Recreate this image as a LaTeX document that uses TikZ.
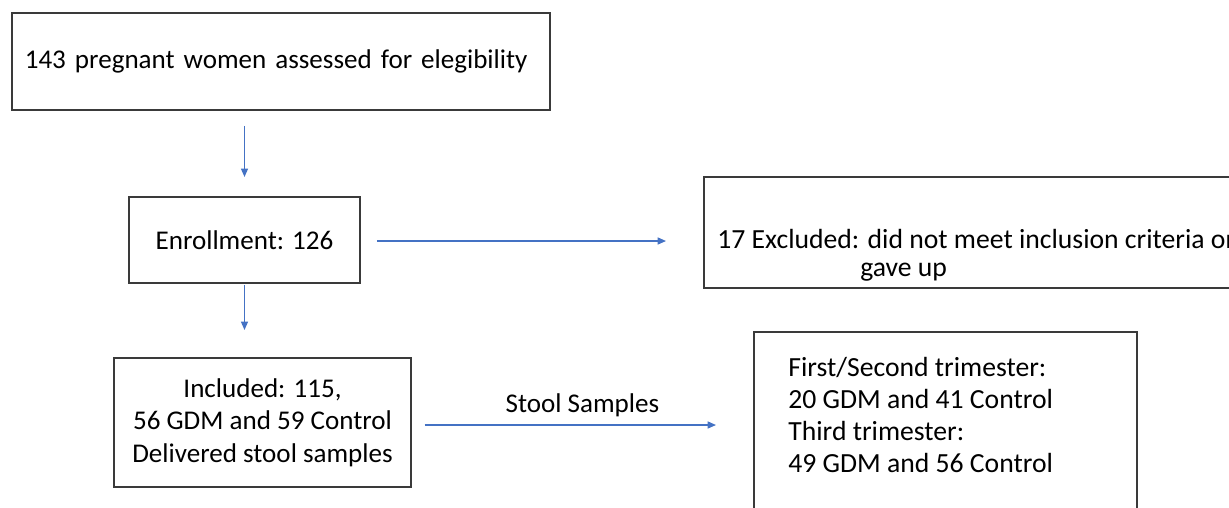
\documentclass[tikz,border=0pt]{standalone}
\usepackage{fontspec}
\setmainfont{Carlito}
\usetikzlibrary{arrows.meta, positioning}

\definecolor{flowblue}{HTML}{4472C4}
\definecolor{boxgray}{HTML}{3A3A3A}

\tikzset{
  box/.style={rectangle, draw=boxgray, line width=1.2pt, outer sep=0pt, inner sep=0pt},
  flow/.style={->, draw=flowblue, line width=0.9pt},
  bigtext/.style={font=\fontsize{15.75}{18.3}\selectfont},
}

\begin{document}
\begin{tikzpicture}[x=0.02cm, y=-0.02cm, >={Triangle[length=0.17cm,width=0.14cm]},
  font=\fontsize{15.4}{18.6}\selectfont]
  \useasboundingbox (0,0) rectangle (1229,507);
  \clip (0,0) rectangle (1229,507);

  % Create the nodes
  \node (assessed) [box, inner xsep=0.25cm, text width=10.25cm, align=left, minimum height=1.94cm] at (281,61.5) {143 pregnant women assessed for elegibility};
  \node (enroll) [box, minimum width=4.62cm, minimum height=1.72cm] at (244.5,240) {Enrollment: 126};
  \node (excluded) [box, minimum width=11.2cm, minimum height=2.22cm] at (984,232.5) {};
  \node (exctext) [bigtext, anchor=west, inner sep=0pt, align=left, font=\fontsize{15.75}{15.9}\selectfont] at (717,255) {17 Excluded: did not meet inclusion criteria or\\\hspace*{2.86cm}gave up};
  \node (included) [box, minimum width=5.93cm, minimum height=2.58cm, align=center] at (262.5,422.5) {Included: 115,\\56 GDM and 59 Control\\Delivered stool samples};
  \node (trimester) [box, minimum width=7.66cm, minimum height=4.56cm] at (945.5,446) {};
  \node (trimtext) [bigtext, anchor=west, inner sep=0pt, align=left] at (788,415) {First/Second trimester:\\20 GDM and 41 Control\\Third trimester:\\49 GDM and 56 Control};

  % Draw the arrows
  \draw [flow, shorten <=0.32cm, shorten >=0.4cm] (enroll.north |- assessed.south) -- (enroll.north);
  \draw [flow, shorten <=0.34cm, shorten >=0.76cm] ([yshift=-0.02cm]enroll.east) -- ([yshift=-0.02cm]enroll.east -| excluded.west);
  \draw [flow, shorten <=0.04cm, shorten >=0.56cm] (enroll.south) -- (enroll.south |- included.north);
  \draw [flow, shorten <=0.28cm, shorten >=0.76cm] ([yshift=-0.05cm]included.east) -- ([yshift=-0.05cm]included.east -| trimester.west)
    node (stoollbl) [pos=0.5, above=0.03cm] {Stool Samples};
\end{tikzpicture}
\end{document}
